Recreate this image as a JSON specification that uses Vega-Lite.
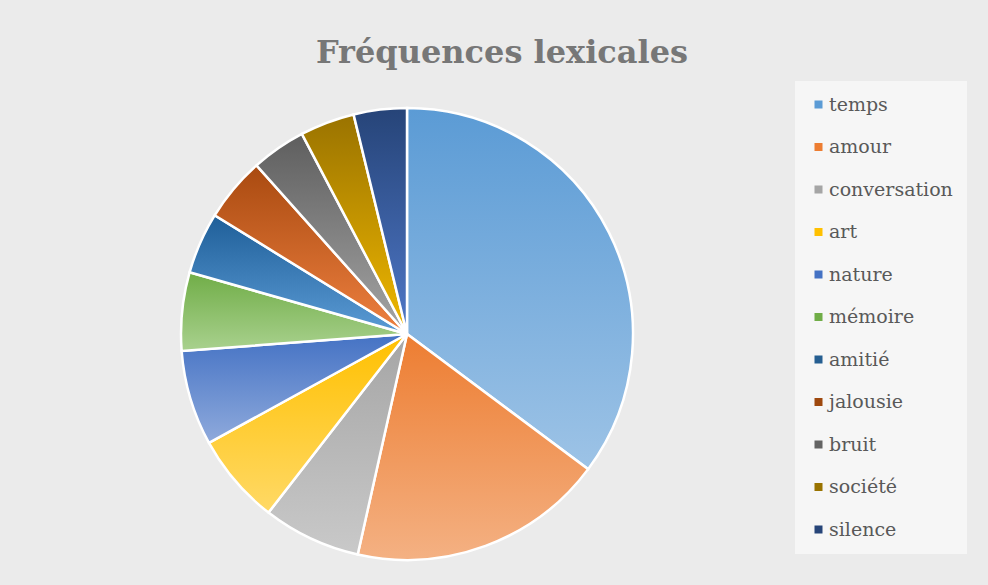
{
  "$schema": "https://vega.github.io/schema/vega-lite/v6.json",
  "autosize": {"type": "none"},
  "width": 452,
  "height": 452,
  "padding": {"left": 181, "top": 108, "right": 355, "bottom": 25},
  "background": "#ebebeb",
  "title": {
    "text": "Fréquences lexicales",
    "font": "DejaVu Serif",
    "fontSize": 32,
    "fontWeight": "bold",
    "color": "#777777",
    "anchor": "middle",
    "baseline": "alphabetic",
    "dx": 95,
    "offset": -14
  },
  "data": {
    "values": [
      {"mot": "temps", "valeur": 35.2},
      {"mot": "amour", "valeur": 18.3},
      {"mot": "conversation", "valeur": 7.0},
      {"mot": "art", "valeur": 6.5},
      {"mot": "nature", "valeur": 6.8},
      {"mot": "mémoire", "valeur": 5.6},
      {"mot": "amitié", "valeur": 4.4},
      {"mot": "jalousie", "valeur": 4.6},
      {"mot": "bruit", "valeur": 3.9},
      {"mot": "société", "valeur": 3.9},
      {"mot": "silence", "valeur": 3.8}
    ]
  },
  "transform": [{"window": [{"op": "row_number", "as": "idx"}]}],
  "mark": {"type": "arc", "stroke": "#ffffff", "strokeWidth": 2.5},
  "encoding": {
    "theta": {"field": "valeur", "type": "quantitative", "stack": true},
    "order": {"field": "idx", "type": "quantitative"},
    "color": {
      "condition": [
        {"test": "datum.mot === 'temps'", "value": {"gradient": "linear", "x1": 0, "y1": 0, "x2": 0, "y2": 1, "stops": [{"offset": 0, "color": "#5b9bd5"}, {"offset": 1, "color": "#9dc3e6"}]}},
        {"test": "datum.mot === 'amour'", "value": {"gradient": "linear", "x1": 0, "y1": 0, "x2": 0, "y2": 1, "stops": [{"offset": 0, "color": "#ed7d31"}, {"offset": 1, "color": "#f4b183"}]}},
        {"test": "datum.mot === 'conversation'", "value": {"gradient": "linear", "x1": 0, "y1": 0, "x2": 0, "y2": 1, "stops": [{"offset": 0, "color": "#a5a5a5"}, {"offset": 1, "color": "#c9c9c9"}]}},
        {"test": "datum.mot === 'art'", "value": {"gradient": "linear", "x1": 0, "y1": 0, "x2": 0, "y2": 1, "stops": [{"offset": 0, "color": "#ffc000"}, {"offset": 1, "color": "#ffd966"}]}},
        {"test": "datum.mot === 'nature'", "value": {"gradient": "linear", "x1": 0, "y1": 0, "x2": 0, "y2": 1, "stops": [{"offset": 0, "color": "#4472c4"}, {"offset": 1, "color": "#8faadc"}]}},
        {"test": "datum.mot === 'mémoire'", "value": {"gradient": "linear", "x1": 0, "y1": 0, "x2": 0, "y2": 1, "stops": [{"offset": 0, "color": "#70ad47"}, {"offset": 1, "color": "#a9d18e"}]}},
        {"test": "datum.mot === 'amitié'", "value": {"gradient": "linear", "x1": 0, "y1": 0, "x2": 0, "y2": 1, "stops": [{"offset": 0, "color": "#1f5f99"}, {"offset": 1, "color": "#5b9bd5"}]}},
        {"test": "datum.mot === 'jalousie'", "value": {"gradient": "linear", "x1": 0, "y1": 0, "x2": 0, "y2": 1, "stops": [{"offset": 0, "color": "#a94a10"}, {"offset": 1, "color": "#ee8040"}]}},
        {"test": "datum.mot === 'bruit'", "value": {"gradient": "linear", "x1": 0, "y1": 0, "x2": 0, "y2": 1, "stops": [{"offset": 0, "color": "#5e5e5e"}, {"offset": 1, "color": "#a5a5a5"}]}},
        {"test": "datum.mot === 'société'", "value": {"gradient": "linear", "x1": 0, "y1": 0, "x2": 0, "y2": 1, "stops": [{"offset": 0, "color": "#9a7300"}, {"offset": 1, "color": "#f0b800"}]}},
        {"test": "datum.mot === 'silence'", "value": {"gradient": "linear", "x1": 0, "y1": 0, "x2": 0, "y2": 1, "stops": [{"offset": 0, "color": "#264478"}, {"offset": 1, "color": "#4f78c8"}]}}
      ],
      "field": "mot",
      "type": "nominal",
      "sort": null,
      "scale": {
        "domain": ["temps", "amour", "conversation", "art", "nature", "mémoire", "amitié", "jalousie", "bruit", "société", "silence"],
        "range": ["#5b9bd5", "#ed7d31", "#a5a5a5", "#ffc000", "#4472c4", "#70ad47", "#255e91", "#9e480e", "#636363", "#997300", "#264478"]
      },
      "legend": {
        "title": null,
        "orient": "none",
        "legendX": 614,
        "legendY": -27,
        "padding": 14,
        "fillColor": "rgba(255,255,255,0.55)",
        "symbolType": "square",
        "symbolSize": 64,
        "symbolStrokeWidth": 0,
        "labelFont": "DejaVu Serif",
        "labelFontSize": 19,
        "labelColor": "#595959",
        "labelOffset": 1,
        "rowPadding": 22.5,
        "labelLimit": 300
      }
    }
  }
}
